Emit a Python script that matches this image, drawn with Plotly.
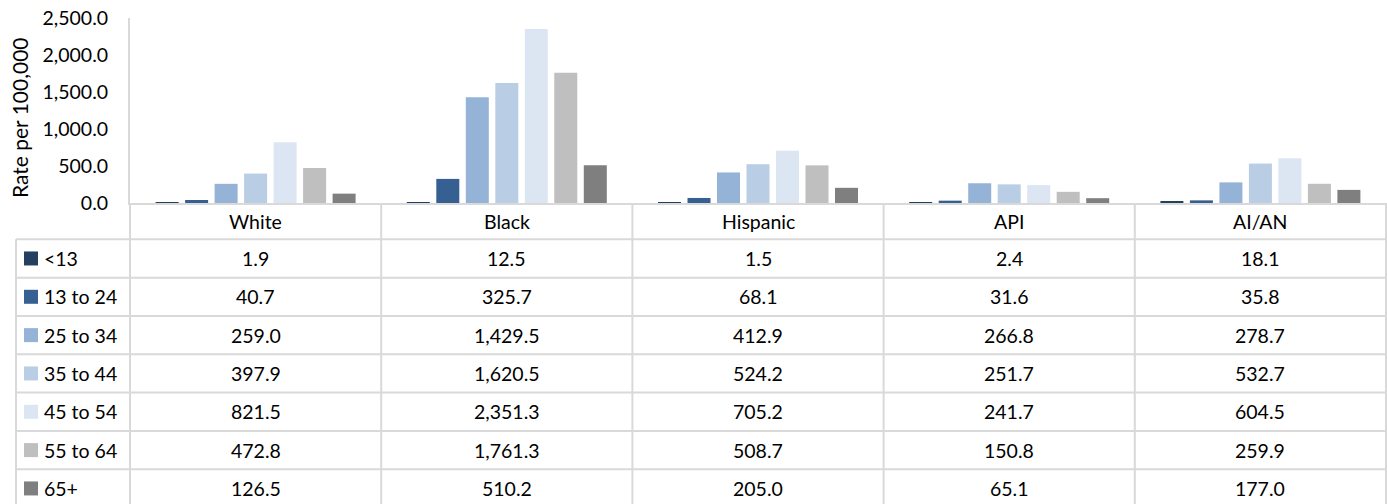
import plotly.graph_objects as go

categories = ["White", "Black", "Hispanic", "API", "AI/AN"]
age_groups = ["<13", "13 to 24", "25 to 34", "35 to 44", "45 to 54", "55 to 64", "65+"]
rate_lt13 = [1.9, 12.5, 1.5, 2.4, 18.1]
rate_13_24 = [40.7, 325.7, 68.1, 31.6, 35.8]
rate_25_34 = [259.0, 1429.5, 412.9, 266.8, 278.7]
rate_35_44 = [397.9, 1620.5, 524.2, 251.7, 532.7]
rate_45_54 = [821.5, 2351.3, 705.2, 241.7, 604.5]
rate_55_64 = [472.8, 1761.3, 508.7, 150.8, 259.9]
rate_65p = [126.5, 510.2, 205.0, 65.1, 177.0]
series = [rate_lt13, rate_13_24, rate_25_34, rate_35_44, rate_45_54, rate_55_64, rate_65p]
colors = ["#243F60", "#376092", "#95B3D7", "#B9CDE5", "#DCE6F2", "#BFBFBF", "#7F7F7F"]
y_ticks = [0, 500, 1000, 1500, 2000, 2500]

FONT = "Lato"
FS = 19.5
GRID = "#D9D9D9"

# figure geometry (pixels)
FW, FH = 1387, 504
L, R, T, B = 130, 1386, 18, 203
W, H = R - L, B - T


def px(x):
    return (x - L) / W


def py(y):
    return (B - y) / H


fig = go.Figure()
for name, vals, col in zip(age_groups, series, colors):
    fig.add_trace(go.Bar(name=name, x=categories, y=vals, marker=dict(color=col, line=dict(width=0))))

shapes = []
annotations = []

# table geometry
row_top = 239.3
row_h = 38.33
left_x = 16
ncat = len(categories)
cat_w = W / ncat

# horizontal row lines
for i in range(len(age_groups)):
    yy = row_top + i * row_h
    shapes.append(dict(type="line", xref="paper", yref="paper", x0=px(left_x), x1=px(R),
                       y0=py(yy), y1=py(yy), line=dict(color=GRID, width=2)))
# vertical lines
shapes.append(dict(type="line", xref="paper", yref="paper", x0=px(left_x), x1=px(left_x),
                   y0=py(row_top), y1=py(FH + 5), line=dict(color=GRID, width=2)))
for k in range(ncat + 1):
    xx = L + k * cat_w
    shapes.append(dict(type="line", xref="paper", yref="paper", x0=px(xx), x1=px(xx),
                       y0=py(B), y1=py(FH + 5), line=dict(color=GRID, width=2)))

# header labels
for c in categories:
    annotations.append(dict(x=c, xref="x", y=py((B + row_top) / 2), yref="paper", text=c,
                            showarrow=False, font=dict(family=FONT, size=FS, color="#000000"),
                            xanchor="center", yanchor="middle"))
# rows
for i, (name, vals, col) in enumerate(zip(age_groups, series, colors)):
    cy = row_top + i * row_h + row_h / 2
    shapes.append(dict(type="rect", xref="paper", yref="paper", x0=px(24), x1=px(38),
                       y0=py(cy - 7), y1=py(cy + 7), fillcolor=col, line=dict(width=0)))
    annotations.append(dict(x=px(42), xref="paper", y=py(cy), yref="paper", text=name,
                            showarrow=False, font=dict(family=FONT, size=FS, color="#000000"),
                            xanchor="left", yanchor="middle"))
    for c, v in zip(categories, vals):
        annotations.append(dict(x=c, xref="x", y=py(cy), yref="paper", text=f"{v:,.1f}",
                                showarrow=False, font=dict(family=FONT, size=FS, color="#000000"),
                                xanchor="center", yanchor="middle"))

# y axis title
annotations.append(dict(x=px(19), xref="paper", y=py(118), yref="paper", text="Rate per 100,000",
                        textangle=-90, showarrow=False, font=dict(family=FONT, size=21, color="#000000"),
                        xanchor="center", yanchor="middle"))

fig.update_layout(
    width=FW, height=FH,
    margin=dict(l=L, r=FW - R, t=T, b=FH - B, pad=0),
    paper_bgcolor="white", plot_bgcolor="white",
    barmode="group", bargap=0.178, bargroupgap=0.22,
    showlegend=False,
    font=dict(family=FONT, size=FS, color="#000000"),
    xaxis=dict(showticklabels=False, showgrid=False, zeroline=False, showline=True,
               linecolor=GRID, linewidth=2, ticks="", range=[-0.5, ncat - 0.5], fixedrange=True),
    yaxis=dict(range=[0, 2500], tickvals=y_ticks, tickformat=",.1f", showgrid=False, zeroline=False,
               showline=True, linecolor=GRID, linewidth=2, ticks="", ticklabelstandoff=16,
               tickfont=dict(family=FONT, size=FS, color="#000000"), fixedrange=True),
    shapes=shapes,
    annotations=annotations,
)

fig.write_html(
    "out.html",
    config={"displayModeBar": False},
    post_script="document.body.style.margin='0';document.body.style.overflow='hidden';",
)
